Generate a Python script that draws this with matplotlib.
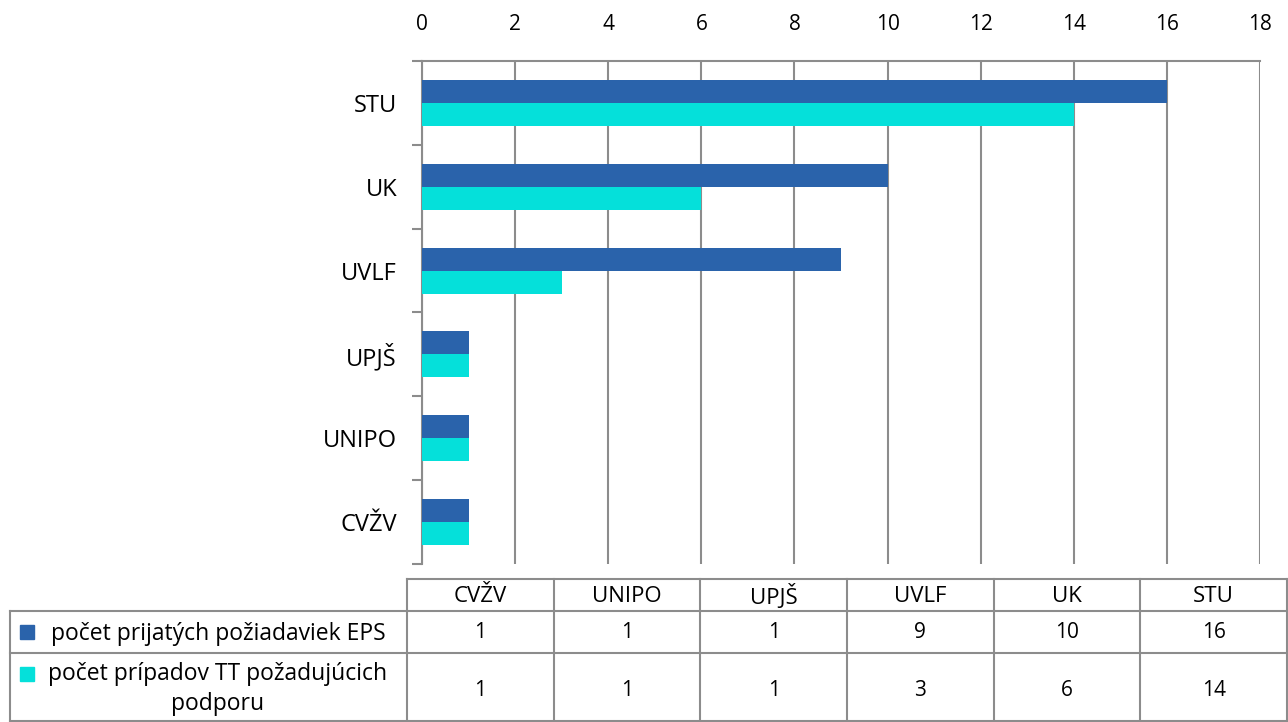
import numpy as np
import matplotlib.pyplot as plt

plt.rcParams['font.family'] = ['Open Sans', 'DejaVu Sans']

# dados do grafico
skoly = ['CVŽV', 'UNIPO', 'UPJŠ', 'UVLF', 'UK', 'STU']
eps = [1, 1, 1, 9, 10, 16]
tt = [1, 1, 1, 3, 6, 14]
serie_nazvy = ['počet prijatých požiadaviek EPS', 'počet prípadov TT požadujúcich\npodporu']
farby = ['#2A63AB', '#05E0DA']
siva = '#8C8C8C'

W, H = 1288, 722
fig = plt.figure(figsize=(W / 100, H / 100), dpi=100)

# graf
ax = fig.add_axes([422 / W, 1 - 564 / H, (1260 - 422) / W, (564 - 61) / H])
y = np.arange(len(skoly))
h = 0.275
ax.barh(y + h / 2, eps, height=h, color=farby[0], zorder=3)
ax.barh(y - h / 2, tt, height=h, color=farby[1], zorder=3)

ax.set_xlim(0, 18)
ax.set_ylim(-0.5, len(skoly) - 0.5)
ax.set_xticks(np.arange(0, 19, 2))
ax.xaxis.tick_top()
ax.tick_params(axis='x', length=0, pad=19, labelsize=15)
ax.grid(axis='x', color=siva, linewidth=1.5, zorder=0)

ax.set_yticks(np.arange(-0.5, len(skoly), 1))
ax.set_yticklabels([])
ax.set_yticks(y, minor=True)
ax.set_yticklabels(skoly, minor=True)
ax.tick_params(axis='y', which='major', length=7, width=1.5, color=siva)
ax.tick_params(axis='y', which='minor', length=0, pad=18, labelsize=17)

for s in ['right', 'bottom']:
    ax.spines[s].set_visible(False)
for s in ['left', 'top']:
    ax.spines[s].set_color(siva)
    ax.spines[s].set_linewidth(1.5)

# tabulka pod grafom
tab = fig.add_axes([0, 0, 1, 1])
tab.set_xlim(0, W)
tab.set_ylim(H, 0)
tab.axis('off')

stlpce = [407 + i * (W - 1 - 407) / len(skoly) for i in range(len(skoly) + 1)]
riadky = [579, 611, 653, 721]
lw = 1.5

tab.plot([stlpce[0], stlpce[-1]], [riadky[0], riadky[0]], color=siva, lw=lw)
for r in riadky[1:]:
    tab.plot([10, stlpce[-1]], [r, r], color=siva, lw=lw)
for c in stlpce:
    tab.plot([c, c], [riadky[0], riadky[-1]], color=siva, lw=lw)
tab.plot([10, 10], [riadky[1], riadky[-1]], color=siva, lw=lw)

for i, s in enumerate(skoly):
    xc = (stlpce[i] + stlpce[i + 1]) / 2
    tab.text(xc, (riadky[0] + riadky[1]) / 2 + 2, s, ha='center', va='center', fontsize=16)
    tab.text(xc, (riadky[1] + riadky[2]) / 2 + 1, str(eps[i]), ha='center', va='center', fontsize=15)
    tab.text(xc, (riadky[2] + riadky[3]) / 2 + 3, str(tt[i]), ha='center', va='center', fontsize=15)

for j in range(2):
    yc = (riadky[j + 1] + riadky[j + 2]) / 2
    tab.add_patch(plt.Rectangle((20, yc - 7 if j == 0 else riadky[2] + 14), 14, 14, color=farby[j]))
    tab.text(218, yc + 2, serie_nazvy[j], ha='center', va='center', fontsize=16.5, linespacing=1.3)

fig.savefig('out.png', dpi=100)
